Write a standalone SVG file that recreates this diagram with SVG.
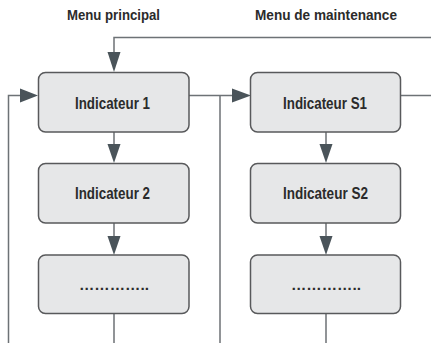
<svg xmlns="http://www.w3.org/2000/svg" width="431" height="343" viewBox="0 0 431 343">
<style>
.box{fill:#e6e7e8;stroke:#58595b;stroke-width:1.5}
.lbl{font-family:"Liberation Sans Narrow","Liberation Sans",Arial,sans-serif;font-weight:bold;font-size:16px;fill:#2b2b2b;text-anchor:middle}
.ttl{font-family:"Liberation Sans Narrow","Liberation Sans",Arial,sans-serif;font-weight:bold;font-size:14px;fill:#2b2b2b;text-anchor:middle}
.dots{font-family:"Liberation Sans",Arial,sans-serif;font-weight:bold;font-size:15px;fill:#2b2b2b;text-anchor:middle}
.ln{fill:none;stroke:#6d7276;stroke-width:1.5}
.ah{fill:#4a545a}
</style>
<rect width="431" height="343" fill="#ffffff"/>
<text class="ttl" x="113.5" y="20" textLength="93" lengthAdjust="spacingAndGlyphs">Menu principal</text>
<text class="ttl" x="326" y="20" textLength="142" lengthAdjust="spacingAndGlyphs">Menu de maintenance</text>
<g id="connectors">
<path class="ln" d="M431 37.5 H114 V55"/>
<polygon class="ah" points="107.5,52 120.5,52 114,72"/>
<path class="ln" d="M8.5 343 V95.5 H22"/>
<polygon class="ah" points="20,88.5 38,95.5 20,102.5"/>
<path class="ln" d="M189 95.5 H234 M220 95.5 V343"/>
<polygon class="ah" points="232,88.5 251,95.5 232,102.5"/>
<path class="ln" d="M400 95.5 H431"/>
<path class="ln" d="M114 132 V147 M114 223 V239 M114 313 V343"/>
<polygon class="ah" points="107.5,144 120.5,144 114,163"/>
<polygon class="ah" points="107.5,236 120.5,236 114,255"/>
<path class="ln" d="M326 132 V147 M326 223 V239 M326 313 V343"/>
<polygon class="ah" points="319.5,144 332.5,144 326,163"/>
<polygon class="ah" points="319.5,236 332.5,236 326,255"/>
</g>
<g id="ind1"><rect class="box" x="38.5" y="72.5" width="150.5" height="59.5" rx="7"/><text class="lbl" x="112.5" y="109" textLength="75" lengthAdjust="spacingAndGlyphs">Indicateur 1</text></g>
<g id="ind2"><rect class="box" x="38.5" y="163.5" width="150.5" height="59.5" rx="7"/><text class="lbl" x="112.5" y="199" textLength="75" lengthAdjust="spacingAndGlyphs">Indicateur 2</text></g>
<g id="ind3"><rect class="box" x="38.5" y="255" width="150.5" height="58.5" rx="7"/><text class="dots" x="114" y="289.5" textLength="70" lengthAdjust="spacingAndGlyphs">…………..</text></g>
<g id="indS1"><rect class="box" x="250.5" y="72.5" width="150" height="59.5" rx="7"/><text class="lbl" x="325" y="109" textLength="84" lengthAdjust="spacingAndGlyphs">Indicateur S1</text></g>
<g id="indS2"><rect class="box" x="250.5" y="163.5" width="150" height="59.5" rx="7"/><text class="lbl" x="325.5" y="199" textLength="85" lengthAdjust="spacingAndGlyphs">Indicateur S2</text></g>
<g id="indS3"><rect class="box" x="250.5" y="255" width="150" height="58.5" rx="7"/><text class="dots" x="326" y="289.5" textLength="70" lengthAdjust="spacingAndGlyphs">…………..</text></g>
</svg>
